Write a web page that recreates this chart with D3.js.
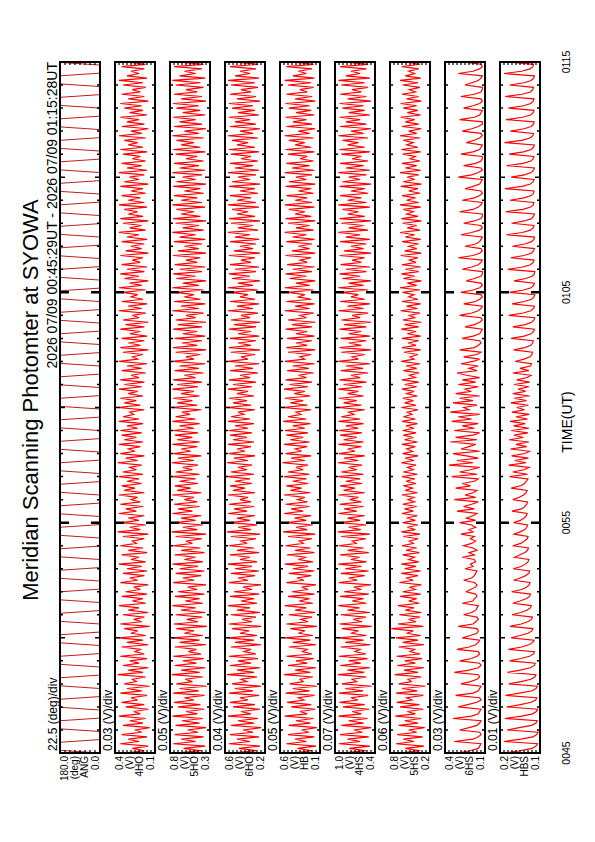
<!DOCTYPE html>
<html>
<head>
<meta charset="utf-8">
<script src="https://cdn.jsdelivr.net/npm/d3@7"></script>
<style>
body { margin: 0; background: #fff; }
svg { display: block; }
text { font-family: "Liberation Sans", Arial, Helvetica, sans-serif; fill: #000; }
</style>
</head>
<body>
<div id="chart"></div>
<script>
// ---- data ----
const titleText = 'Meridian Scanning Photomter at SYOWA';
const periodText = '2026 07/09 00:45:29UT - 2026 07/09 01:15:28UT';
const timeTickLabels = ['0045', '0055', '0105', '0115'];
const divLabels = ['22.5 (deg)/div', '0.03 (V)/div', '0.05 (V)/div', '0.04 (V)/div', '0.05 (V)/div',
    '0.07 (V)/div', '0.06 (V)/div', '0.03 (V)/div', '0.01 (V)/div'];
const unitLabels = ['(deg)', '(V)', '(V)', '(V)', '(V)', '(V)', '(V)', '(V)', '(V)'];
const channelLabels = ['ANG', '4HO', '5HO', '6HO', 'HB', '4HS', '5HS', '6HS', 'HBS'];
const topLabels = ['180.0', '0.4', '0.8', '0.6', '0.6', '1.0', '0.8', '0.4', '0.2'];
const bottomLabels = ['0.0', '0.1', '0.3', '0.2', '0.1', '0.4', '0.2', '0.1', '0.1'];
const rangeMin = [0, 0.1, 0.3, 0.2, 0.1, 0.4, 0.2, 0.1, 0.1];
const perDiv = [22.5, 0.03, 0.05, 0.04, 0.05, 0.07, 0.06, 0.03, 0.01];
const nDiv = [8, 10, 10, 10, 10, 10, 10, 10, 10];

const startTime = new Date(Date.UTC(2026, 6, 9, 0, 45, 0));
const endTime = new Date(Date.UTC(2026, 6, 9, 1, 15, 0));
const sampleStep = 6;     // s, photometer samples
const angleStep = 7;      // s, scanner angle samples

const scanAngle = [0,180,180,180,180,0,0,0,0,180,180,180,180,0,0,0,
    0,180,180,180,180,0,0,0,0,180,180,180,180,0,0,0,
    0,180,180,180,180,0,0,0,0,180,180,180,180,0,0,0,
    0,180,180,180,180,0,0,0,0,180,180,180,180,0,0,0,
    0,180,180,180,180,0,0,0,0,180,180,180,180,0,0,0,
    0,180,180,180,180,0,0,0,0,180,180,180,180,0,0,0,
    0,180,180,180,180,0,0,0,0,180,180,180,180,0,0,0,
    0,180,180,180,180,0,0,0,0,180,180,180,180,0,0,0,
    0,180,180,180,180,0,0,0,0,180,180,180,180,0,0,0,
    0,180,180,180,180,0,0,0,0,180,180,180,180,0,0,0,
    0,180,180,180,180,0,0,0,0,180,180,180,180,0,0,0,
    0,180,180,180,180,0,0,0,0,180,180,180,180,0,0,0,
    0,180,180,180,180,0,0,0,0,180,180,180,180,0,0,0,
    0,180,180,180,180,0,0,0,0,180,180,180,180,0,0,0,
    0,180,180,180,180,0,0,0,0,180,180,180,180,0,0,0,
    0,180,180,180,180,0,0,0,0,180,180,180,180,0,0,0,
    0,180];

const ch1 = [0.33,0.18,0.27,0.15,0.36,0.22,0.30,0.16,0.35,0.20,0.25,0.14,0.34,0.19,0.29,0.17,0.37,0.21,0.26,0.15,
    0.32,0.18,0.35,0.23,0.28,0.16,0.36,0.20,0.31,0.14,0.33,0.24,0.27,0.17,0.38,0.19,0.30,0.15,0.34,0.22,
    0.29,0.16,0.36,0.18,0.25,0.21,0.35,0.15,0.31,0.19,0.37,0.17,0.28,0.23,0.33,0.14,0.36,0.20,0.26,0.18,
    0.34,0.15,0.30,0.22,0.37,0.17,0.27,0.19,0.35,0.16,0.32,0.21,0.26,0.15,0.36,0.23,0.29,0.18,0.34,0.16,
    0.31,0.20,0.37,0.17,0.28,0.22,0.35,0.16,0.30,0.19,0.36,0.24,0.27,0.18,0.34,0.15,0.38,0.21,0.29,0.17,
    0.35,0.22,0.30,0.18,0.37,0.24,0.32,0.19,0.36,0.21,0.28,0.23,0.37,0.18,0.33,0.25,0.35,0.20,0.31,0.22,
    0.37,0.19,0.34,0.24,0.29,0.20,0.38,0.23,0.32,0.18,0.36,0.25,0.30,0.21,0.37,0.19,0.33,0.24,0.35,0.20,
    0.36,0.23,0.31,0.19,0.37,0.22,0.34,0.26,0.29,0.18,0.38,0.21,0.33,0.24,0.36,0.19,0.30,0.23,0.37,0.20,
    0.33,0.18,0.36,0.22,0.28,0.17,0.35,0.20,0.31,0.16,0.37,0.23,0.27,0.19,0.34,0.15,0.36,0.21,0.30,0.18,
    0.35,0.16,0.29,0.21,0.36,0.18,0.32,0.15,0.34,0.22,0.27,0.17,0.37,0.20,0.30,0.16,0.35,0.19,0.28,0.23,
    0.34,0.17,0.37,0.20,0.29,0.15,0.33,0.22,0.36,0.18,0.31,0.16,0.35,0.21,0.27,0.19,0.36,0.15,0.32,0.20,
    0.28,0.18,0.35,0.16,0.31,0.22,0.37,0.17,0.29,0.20,0.34,0.15,0.36,0.19,0.30,0.23,0.33,0.16,0.37,0.18,
    0.30,0.21,0.35,0.17,0.28,0.19,0.36,0.15,0.33,0.22,0.29,0.18,0.37,0.16,0.31,0.20,0.35,0.17,0.27,0.21,
    0.34,0.16,0.36,0.19,0.30,0.23,0.33,0.17,0.37,0.20,0.28,0.15,0.35,0.18,0.31,0.22,0.36,0.16,0.29,0.19,
    0.33,0.20,0.36,0.15,0.30,0.18,0.35,0.21,0.27,0.17,0.34,0.19,0.37,0.16,0.31,0.22,0.28,0.18,0.35,0.17,
    0.32];
const ch2 = [0.72,0.41,0.63,0.36,0.76,0.48,0.66,0.38,0.74,0.45,0.58,0.35,0.73,0.43,0.65,0.39,0.77,0.46,0.60,0.37,
    0.70,0.42,0.75,0.50,0.62,0.37,0.76,0.44,0.68,0.34,0.72,0.52,0.61,0.39,0.78,0.43,0.66,0.36,0.74,0.47,
    0.64,0.38,0.76,0.41,0.57,0.47,0.74,0.35,0.68,0.43,0.77,0.39,0.62,0.50,0.72,0.34,0.75,0.45,0.59,0.40,
    0.73,0.36,0.66,0.48,0.77,0.39,0.61,0.43,0.74,0.37,0.70,0.46,0.58,0.35,0.76,0.50,0.64,0.41,0.73,0.37,
    0.68,0.45,0.77,0.39,0.62,0.48,0.74,0.37,0.66,0.42,0.76,0.52,0.60,0.40,0.73,0.35,0.78,0.46,0.64,0.39,
    0.74,0.48,0.66,0.41,0.77,0.52,0.70,0.43,0.75,0.46,0.62,0.50,0.77,0.41,0.71,0.54,0.74,0.45,0.68,0.48,
    0.77,0.43,0.73,0.52,0.64,0.45,0.78,0.50,0.70,0.41,0.76,0.54,0.66,0.46,0.77,0.43,0.71,0.52,0.74,0.45,
    0.76,0.50,0.68,0.43,0.77,0.48,0.73,0.55,0.65,0.41,0.78,0.46,0.71,0.52,0.76,0.43,0.66,0.50,0.77,0.45,
    0.71,0.40,0.76,0.48,0.62,0.38,0.74,0.44,0.68,0.36,0.77,0.50,0.60,0.42,0.73,0.35,0.76,0.46,0.65,0.40,
    0.74,0.36,0.64,0.46,0.76,0.40,0.70,0.35,0.73,0.48,0.60,0.38,0.77,0.44,0.66,0.36,0.75,0.42,0.62,0.50,
    0.73,0.38,0.77,0.44,0.64,0.35,0.72,0.48,0.76,0.40,0.68,0.36,0.74,0.46,0.60,0.42,0.76,0.35,0.70,0.44,
    0.62,0.40,0.75,0.36,0.68,0.48,0.77,0.38,0.64,0.44,0.73,0.35,0.76,0.42,0.66,0.50,0.72,0.36,0.77,0.40,
    0.66,0.46,0.75,0.38,0.62,0.42,0.76,0.35,0.72,0.48,0.64,0.40,0.77,0.36,0.68,0.44,0.75,0.38,0.60,0.46,
    0.73,0.36,0.76,0.42,0.66,0.50,0.72,0.38,0.77,0.44,0.62,0.35,0.75,0.40,0.68,0.48,0.76,0.36,0.64,0.42,
    0.72,0.44,0.76,0.35,0.66,0.40,0.75,0.46,0.60,0.38,0.73,0.42,0.77,0.36,0.68,0.48,0.62,0.40,0.75,0.38,
    0.70];
const ch3 = [0.53,0.29,0.46,0.25,0.56,0.35,0.48,0.26,0.55,0.32,0.42,0.24,0.54,0.31,0.47,0.27,0.57,0.34,0.44,0.25,
    0.52,0.30,0.55,0.37,0.45,0.26,0.56,0.32,0.50,0.24,0.53,0.38,0.44,0.28,0.58,0.31,0.48,0.25,0.55,0.34,
    0.47,0.27,0.56,0.29,0.41,0.34,0.54,0.24,0.50,0.31,0.57,0.28,0.45,0.36,0.53,0.24,0.56,0.33,0.43,0.29,
    0.54,0.25,0.48,0.35,0.57,0.28,0.44,0.31,0.55,0.26,0.51,0.33,0.42,0.24,0.56,0.37,0.47,0.30,0.54,0.26,
    0.50,0.33,0.57,0.28,0.45,0.35,0.55,0.26,0.48,0.31,0.56,0.38,0.44,0.29,0.54,0.25,0.58,0.34,0.47,0.28,
    0.55,0.35,0.48,0.30,0.57,0.38,0.51,0.31,0.56,0.34,0.45,0.37,0.57,0.30,0.52,0.40,0.55,0.33,0.50,0.35,
    0.57,0.31,0.54,0.38,0.47,0.33,0.58,0.37,0.51,0.30,0.56,0.40,0.48,0.34,0.57,0.31,0.52,0.38,0.55,0.33,
    0.56,0.37,0.50,0.31,0.57,0.35,0.54,0.41,0.47,0.30,0.58,0.34,0.52,0.38,0.56,0.31,0.48,0.37,0.57,0.33,
    0.52,0.29,0.56,0.35,0.45,0.27,0.55,0.32,0.50,0.26,0.57,0.37,0.44,0.30,0.54,0.25,0.56,0.34,0.47,0.29,
    0.55,0.26,0.47,0.34,0.56,0.29,0.51,0.25,0.54,0.35,0.44,0.27,0.57,0.32,0.48,0.26,0.55,0.30,0.45,0.37,
    0.54,0.27,0.57,0.32,0.47,0.25,0.53,0.35,0.56,0.29,0.50,0.26,0.55,0.34,0.44,0.30,0.56,0.25,0.51,0.32,
    0.45,0.29,0.55,0.26,0.50,0.35,0.57,0.27,0.47,0.32,0.54,0.25,0.56,0.30,0.48,0.37,0.53,0.26,0.57,0.29,
    0.48,0.34,0.55,0.27,0.45,0.30,0.56,0.25,0.53,0.35,0.47,0.29,0.57,0.26,0.50,0.32,0.55,0.27,0.44,0.34,
    0.54,0.26,0.56,0.30,0.48,0.37,0.53,0.27,0.57,0.32,0.45,0.25,0.55,0.29,0.50,0.35,0.56,0.26,0.47,0.30,
    0.53,0.32,0.56,0.25,0.48,0.29,0.55,0.34,0.44,0.27,0.54,0.30,0.57,0.26,0.50,0.35,0.45,0.29,0.55,0.27,
    0.51];
const ch4 = [0.47,0.20,0.38,0.15,0.52,0.27,0.41,0.17,0.50,0.24,0.33,0.14,0.49,0.22,0.40,0.18,0.54,0.26,0.35,0.16,
    0.46,0.21,0.51,0.30,0.37,0.17,0.53,0.23,0.44,0.14,0.48,0.31,0.35,0.19,0.55,0.22,0.41,0.15,0.50,0.26,
    0.40,0.18,0.52,0.20,0.32,0.26,0.49,0.15,0.44,0.22,0.54,0.19,0.37,0.29,0.47,0.14,0.52,0.25,0.34,0.20,
    0.49,0.16,0.41,0.27,0.54,0.19,0.36,0.23,0.50,0.17,0.45,0.25,0.33,0.15,0.52,0.30,0.39,0.21,0.49,0.17,
    0.44,0.25,0.54,0.19,0.37,0.27,0.51,0.17,0.41,0.22,0.53,0.31,0.36,0.20,0.50,0.16,0.56,0.26,0.40,0.19,
    0.52,0.27,0.42,0.21,0.55,0.31,0.46,0.23,0.53,0.26,0.38,0.29,0.55,0.22,0.47,0.33,0.52,0.25,0.44,0.27,
    0.55,0.23,0.50,0.31,0.40,0.25,0.57,0.29,0.46,0.21,0.53,0.33,0.41,0.26,0.55,0.23,0.47,0.31,0.52,0.25,
    0.54,0.29,0.44,0.22,0.56,0.27,0.50,0.34,0.40,0.21,0.57,0.26,0.47,0.31,0.54,0.22,0.42,0.29,0.55,0.25,
    0.48,0.20,0.53,0.27,0.37,0.18,0.51,0.24,0.44,0.17,0.54,0.29,0.35,0.21,0.50,0.16,0.52,0.26,0.40,0.20,
    0.51,0.17,0.40,0.26,0.53,0.20,0.45,0.16,0.50,0.27,0.35,0.18,0.54,0.23,0.41,0.17,0.52,0.21,0.37,0.29,
    0.50,0.18,0.54,0.23,0.40,0.16,0.48,0.27,0.53,0.20,0.44,0.17,0.51,0.26,0.35,0.21,0.53,0.16,0.45,0.23,
    0.37,0.20,0.52,0.17,0.44,0.27,0.54,0.18,0.40,0.23,0.50,0.16,0.53,0.21,0.41,0.29,0.49,0.17,0.54,0.20,
    0.41,0.26,0.52,0.18,0.37,0.21,0.53,0.16,0.49,0.27,0.40,0.20,0.54,0.17,0.45,0.23,0.52,0.18,0.35,0.26,
    0.50,0.17,0.53,0.21,0.41,0.29,0.49,0.18,0.54,0.23,0.37,0.16,0.52,0.20,0.44,0.27,0.53,0.17,0.40,0.21,
    0.49,0.23,0.53,0.16,0.41,0.20,0.52,0.26,0.35,0.18,0.50,0.21,0.54,0.17,0.44,0.27,0.37,0.20,0.52,0.18,
    0.46];
const ch5 = [0.98,0.56,0.85,0.49,1.03,0.66,0.88,0.51,1.01,0.62,0.77,0.47,0.99,0.60,0.86,0.53,1.04,0.64,0.80,0.50,
    0.96,0.58,1.02,0.70,0.82,0.52,1.03,0.61,0.92,0.46,0.98,0.72,0.80,0.55,1.05,0.59,0.88,0.49,1.01,0.65,
    0.86,0.53,1.03,0.56,0.75,0.66,1.00,0.48,0.92,0.60,1.04,0.55,0.82,0.69,0.98,0.46,1.02,0.63,0.78,0.56,
    1.00,0.49,0.88,0.67,1.04,0.55,0.80,0.60,1.01,0.51,0.94,0.64,0.77,0.47,1.03,0.71,0.86,0.58,1.00,0.51,
    0.92,0.64,1.04,0.55,0.82,0.67,1.01,0.51,0.88,0.60,1.03,0.73,0.80,0.56,0.99,0.49,1.05,0.65,0.86,0.55,
    1.01,0.66,0.88,0.58,1.04,0.72,0.94,0.60,1.02,0.64,0.84,0.69,1.04,0.58,0.95,0.75,1.01,0.63,0.91,0.66,
    1.04,0.60,0.99,0.72,0.86,0.63,1.05,0.69,0.94,0.58,1.03,0.75,0.88,0.64,1.04,0.60,0.95,0.72,1.01,0.63,
    1.03,0.69,0.91,0.60,1.04,0.66,0.99,0.77,0.86,0.58,1.05,0.64,0.95,0.72,1.03,0.60,0.88,0.69,1.04,0.63,
    0.95,0.55,1.02,0.66,0.82,0.52,1.00,0.61,0.91,0.49,1.04,0.69,0.80,0.58,0.99,0.47,1.02,0.64,0.86,0.55,
    1.00,0.49,0.86,0.64,1.02,0.55,0.94,0.47,0.99,0.66,0.80,0.52,1.04,0.60,0.88,0.49,1.01,0.58,0.82,0.69,
    0.99,0.52,1.04,0.60,0.86,0.47,0.97,0.66,1.02,0.55,0.91,0.49,1.00,0.64,0.80,0.58,1.02,0.47,0.94,0.60,
    0.82,0.55,1.01,0.49,0.91,0.66,1.04,0.52,0.86,0.60,0.99,0.47,1.02,0.58,0.88,0.69,0.97,0.49,1.04,0.55,
    0.88,0.64,1.01,0.52,0.82,0.58,1.02,0.47,0.97,0.66,0.86,0.55,1.04,0.49,0.91,0.60,1.01,0.52,0.80,0.64,
    0.99,0.49,1.02,0.58,0.88,0.69,0.97,0.52,1.04,0.60,0.82,0.47,1.01,0.55,0.91,0.66,1.02,0.49,0.86,0.58,
    0.97,0.60,1.02,0.47,0.88,0.55,1.01,0.64,0.80,0.52,0.99,0.58,1.04,0.49,0.91,0.66,0.82,0.55,1.01,0.52,
    0.94];
const ch6 = [0.68,0.35,0.57,0.29,0.71,0.44,0.60,0.31,0.69,0.40,0.52,0.28,0.67,0.38,0.58,0.33,0.72,0.42,0.54,0.30,
    0.65,0.36,0.70,0.47,0.55,0.30,0.71,0.39,0.62,0.27,0.67,0.48,0.53,0.33,0.73,0.38,0.59,0.29,0.69,0.42,
    0.58,0.32,0.70,0.35,0.50,0.43,0.67,0.29,0.61,0.38,0.71,0.34,0.55,0.45,0.78,0.30,0.68,0.41,0.52,0.35,
    0.66,0.33,0.57,0.44,0.68,0.36,0.52,0.40,0.65,0.34,0.61,0.42,0.50,0.33,0.66,0.45,0.56,0.38,0.63,0.34,
    0.58,0.41,0.63,0.37,0.52,0.43,0.61,0.36,0.56,0.40,0.62,0.45,0.51,0.38,0.60,0.35,0.63,0.42,0.54,0.38,
    0.61,0.42,0.55,0.39,0.62,0.45,0.58,0.40,0.61,0.43,0.53,0.44,0.62,0.39,0.57,0.46,0.60,0.41,0.56,0.43,
    0.62,0.39,0.60,0.45,0.54,0.41,0.63,0.44,0.57,0.38,0.61,0.46,0.55,0.42,0.62,0.39,0.58,0.45,0.60,0.41,
    0.61,0.44,0.56,0.39,0.62,0.42,0.60,0.47,0.54,0.38,0.63,0.41,0.58,0.45,0.61,0.39,0.55,0.44,0.62,0.40,
    0.58,0.37,0.62,0.42,0.51,0.36,0.60,0.40,0.56,0.35,0.63,0.44,0.50,0.38,0.59,0.34,0.62,0.41,0.53,0.37,
    0.62,0.34,0.54,0.41,0.63,0.37,0.58,0.33,0.61,0.43,0.51,0.35,0.64,0.39,0.55,0.34,0.62,0.38,0.52,0.44,
    0.61,0.35,0.65,0.40,0.54,0.33,0.60,0.43,0.63,0.37,0.57,0.34,0.62,0.41,0.51,0.38,0.64,0.33,0.58,0.40,
    0.52,0.37,0.62,0.34,0.57,0.43,0.65,0.35,0.54,0.40,0.61,0.33,0.63,0.38,0.55,0.45,0.60,0.34,0.65,0.37,
    0.55,0.42,0.62,0.35,0.52,0.38,0.64,0.33,0.60,0.43,0.54,0.37,0.65,0.34,0.57,0.40,0.62,0.35,0.50,0.42,
    0.61,0.34,0.63,0.38,0.55,0.45,0.60,0.35,0.65,0.40,0.52,0.33,0.62,0.37,0.57,0.43,0.64,0.34,0.54,0.38,
    0.60,0.40,0.64,0.33,0.55,0.37,0.62,0.42,0.51,0.35,0.61,0.38,0.65,0.34,0.57,0.43,0.52,0.37,0.62,0.35,
    0.58];
const ch7 = [0.31,0.21,0.15,0.14,0.13,0.33,0.19,0.15,0.13,0.14,0.29,0.22,0.16,0.14,0.13,0.34,0.20,0.15,0.14,0.13,
    0.30,0.23,0.16,0.13,0.14,0.32,0.19,0.15,0.14,0.13,0.28,0.21,0.16,0.14,0.15,0.33,0.22,0.15,0.13,0.14,
    0.29,0.20,0.16,0.14,0.15,0.31,0.22,0.17,0.15,0.14,0.27,0.21,0.16,0.15,0.16,0.30,0.19,0.17,0.15,0.16,
    0.26,0.20,0.17,0.16,0.15,0.27,0.19,0.18,0.16,0.17,0.24,0.21,0.17,0.16,0.18,0.26,0.20,0.18,0.17,0.16,
    0.25,0.19,0.21,0.17,0.18,0.27,0.18,0.22,0.16,0.19,0.26,0.20,0.17,0.21,0.18,0.28,0.19,0.22,0.17,0.20,
    0.29,0.17,0.24,0.19,0.16,0.31,0.18,0.26,0.20,0.15,0.33,0.17,0.25,0.19,0.16,0.32,0.21,0.27,0.18,0.15,
    0.35,0.16,0.29,0.21,0.14,0.37,0.19,0.31,0.15,0.24,0.34,0.14,0.28,0.22,0.17,0.36,0.16,0.32,0.19,0.14,
    0.33,0.18,0.27,0.15,0.35,0.20,0.30,0.14,0.36,0.22,0.26,0.16,0.34,0.19,0.29,0.14,0.32,0.21,0.25,0.15,
    0.30,0.17,0.27,0.14,0.24,0.31,0.16,0.22,0.15,0.28,0.19,0.14,0.26,0.16,0.13,0.29,0.18,0.15,0.13,0.14,
    0.27,0.19,0.14,0.13,0.12,0.25,0.18,0.14,0.12,0.13,0.29,0.20,0.15,0.13,0.12,0.26,0.17,0.14,0.12,0.13,
    0.28,0.19,0.14,0.12,0.13,0.24,0.18,0.13,0.12,0.12,0.27,0.20,0.15,0.13,0.12,0.30,0.19,0.14,0.12,0.13,
    0.25,0.17,0.14,0.13,0.12,0.28,0.20,0.14,0.12,0.13,0.26,0.18,0.13,0.12,0.12,0.29,0.19,0.15,0.13,0.12,
    0.27,0.18,0.14,0.12,0.13,0.25,0.19,0.14,0.13,0.12,0.30,0.20,0.15,0.12,0.13,0.26,0.17,0.13,0.12,0.12,
    0.28,0.19,0.14,0.13,0.12,0.24,0.18,0.14,0.12,0.13,0.27,0.20,0.15,0.12,0.12,0.29,0.18,0.14,0.13,0.12,
    0.26,0.19,0.14,0.12,0.13,0.28,0.18,0.13,0.12,0.12,0.25,0.20,0.15,0.13,0.12,0.30,0.19,0.14,0.12,0.13,
    0.27];
const ch8 = [0.185,0.150,0.120,0.110,0.106,0.190,0.148,0.118,0.108,0.105,0.182,0.152,0.121,0.110,0.107,0.188,0.146,0.119,0.109,0.106,
    0.183,0.149,0.122,0.111,0.108,0.186,0.151,0.120,0.110,0.107,0.178,0.147,0.123,0.113,0.110,0.181,0.150,0.124,0.114,0.112,
    0.176,0.148,0.126,0.116,0.114,0.179,0.146,0.128,0.118,0.115,0.172,0.150,0.130,0.120,0.118,0.175,0.147,0.131,0.121,0.119,
    0.170,0.148,0.133,0.124,0.122,0.168,0.150,0.135,0.126,0.124,0.171,0.146,0.134,0.127,0.125,0.166,0.149,0.136,0.128,0.126,
    0.167,0.147,0.137,0.130,0.128,0.164,0.151,0.138,0.131,0.129,0.168,0.148,0.139,0.132,0.130,0.165,0.150,0.138,0.133,0.131,
    0.166,0.149,0.140,0.134,0.132,0.170,0.146,0.138,0.133,0.131,0.168,0.152,0.141,0.135,0.132,0.172,0.148,0.139,0.134,0.130,
    0.176,0.131,0.168,0.140,0.127,0.178,0.135,0.163,0.129,0.171,0.138,0.126,0.174,0.133,0.160,0.128,0.177,0.142,0.165,0.130,
    0.172,0.128,0.166,0.137,0.175,0.131,0.160,0.127,0.170,0.139,0.158,0.129,0.173,0.134,0.164,0.126,0.168,0.136,0.155,0.128,
    0.165,0.126,0.158,0.132,0.122,0.168,0.128,0.150,0.124,0.121,0.162,0.140,0.125,0.120,0.119,0.166,0.138,0.123,0.118,0.117,
    0.172,0.140,0.122,0.116,0.114,0.168,0.137,0.121,0.115,0.113,0.178,0.142,0.123,0.116,0.114,0.170,0.139,0.121,0.115,0.113,
    0.176,0.141,0.122,0.116,0.114,0.165,0.136,0.120,0.114,0.113,0.181,0.143,0.124,0.117,0.115,0.173,0.140,0.122,0.116,0.114,
    0.169,0.138,0.121,0.115,0.114,0.184,0.144,0.124,0.117,0.115,0.171,0.139,0.121,0.116,0.114,0.186,0.143,0.123,0.117,0.115,
    0.175,0.140,0.122,0.116,0.115,0.188,0.145,0.124,0.117,0.115,0.172,0.139,0.122,0.116,0.114,0.183,0.142,0.123,0.117,0.115,
    0.177,0.141,0.122,0.116,0.114,0.189,0.146,0.125,0.118,0.116,0.174,0.140,0.122,0.116,0.115,0.185,0.144,0.124,0.117,0.115,
    0.179,0.141,0.123,0.117,0.115,0.187,0.145,0.124,0.118,0.116,0.176,0.140,0.122,0.116,0.114,0.190,0.146,0.125,0.118,0.116,
    0.180];
const photometer = [ch1, ch2, ch3, ch4, ch5, ch6, ch7, ch8];

// ---- drawing: the plot is built in landscape and turned a quarter ----
let svg, rootG, x, panelH = 40, panelGap = 55, panelTop0 = 60,
    pageW = 595, pageH = 842;

svg = d3.select('#chart')
    .append('svg')
        .attr('xmlns', 'http://www.w3.org/2000/svg')
        .attr('width', pageW)
        .attr('height', pageH);

svg.append('rect')
    .attr('width', pageW)
    .attr('height', pageH)
    .attr('fill', '#fff');

rootG = svg.append('g')
    .attr('transform', 'translate(0,' + pageH + ') rotate(-90)');

x = d3.scaleUtc()
    .domain([startTime, endTime])
    .range([89, 780]);

rootG.append('text')
    .attr('x', 442)
    .attr('y', 38)
    .attr('text-anchor', 'middle')
    .style('font-size', '22px')
    .text(titleText);

rootG.append('text')
    .attr('x', 780)
    .attr('y', 57)
    .attr('text-anchor', 'end')
    .style('font-size', '14px')
    .text(periodText);

let series = [scanAngle].concat(photometer);

series.forEach((values, i) => {
    let top = panelTop0 + i * panelGap,
        lo = rangeMin[i],
        hi = rangeMin[i] + perDiv[i] * nDiv[i],
        step = i === 0 ? angleStep : sampleStep,
        y = d3.scaleLinear().domain([lo, hi]).range([top + panelH, top]),
        g = rootG.append('g').attr('class', 'panel-' + i),
        clipId = 'clip-' + i;

    g.append('clipPath')
        .attr('id', clipId)
        .append('rect')
            .attr('x', x.range()[0])
            .attr('y', top)
            .attr('width', x.range()[1] - x.range()[0])
            .attr('height', panelH);

    let line = d3.line()
        .x((d, k) => x(new Date(startTime.getTime() + k * step * 1000)))
        .y(d => y(d));

    g.append('path')
        .attr('clip-path', 'url(#' + clipId + ')')
        .attr('d', line(values))
        .attr('fill', 'none')
        .attr('stroke', i === 0 ? '#c00000' : '#ff0000')
        .attr('stroke-width', i === 0 ? 0.9 : 1.15);

    // time ticks on both long edges
    let minutes = d3.utcMinute.range(startTime, new Date(endTime.getTime() + 1));
    minutes.forEach(m => {
        let mm = Math.round((m - startTime) / 60000),
            len = mm % 10 === 0 ? 9 : (mm % 5 === 0 ? 5 : 3),
            w = mm % 10 === 0 ? 2.5 : 1.5;
        if (mm === 0 || mm === 30) return;
        g.append('path')
            .attr('d', 'M' + x(m) + ',' + top + 'V' + (top + len) +
                'M' + x(m) + ',' + (top + panelH) + 'V' + (top + panelH - len))
            .attr('stroke', '#000')
            .attr('stroke-width', w);
    });

    // value ticks on both short edges
    d3.range(1, nDiv[i]).forEach(k => {
        let yy = y(lo + k * perDiv[i]);
        g.append('path')
            .attr('d', 'M' + x.range()[0] + ',' + yy + 'h3M' + x.range()[1] + ',' + yy + 'h-3')
            .attr('stroke', '#000')
            .attr('stroke-width', 1.2);
    });

    g.append('rect')
        .attr('x', x.range()[0])
        .attr('y', top)
        .attr('width', x.range()[1] - x.range()[0])
        .attr('height', panelH)
        .attr('fill', 'none')
        .attr('stroke', '#000')
        .attr('stroke-width', 2);

    g.append('text')
        .attr('x', 91)
        .attr('y', top - 3)
        .style('font-size', '12px')
        .text(divLabels[i]);

    let labelG = g.append('g')
        .attr('text-anchor', 'end')
        .style('font-size', '10px');
    [[topLabels[i], 8], [unitLabels[i], 18], [channelLabels[i], 28], [bottomLabels[i], 39]]
        .forEach(p => {
            labelG.append('text')
                .attr('x', 86)
                .attr('y', top + p[1])
                .text(p[0]);
        });
});

let lastBottom = panelTop0 + (series.length - 1) * panelGap + panelH;

rootG.append('g')
    .selectAll('text')
    .data(timeTickLabels)
    .enter()
    .append('text')
        .attr('x', (d, k) => x(new Date(startTime.getTime() + k * 600000)))
        .attr('y', lastBottom + 30)
        .attr('text-anchor', 'middle')
        .style('font-size', '10.5px')
        .text(d => d);

rootG.append('text')
    .attr('x', 420)
    .attr('y', lastBottom + 32)
    .attr('text-anchor', 'middle')
    .style('font-size', '14px')
    .text('TIME(UT)');
</script>
</body>
</html>
